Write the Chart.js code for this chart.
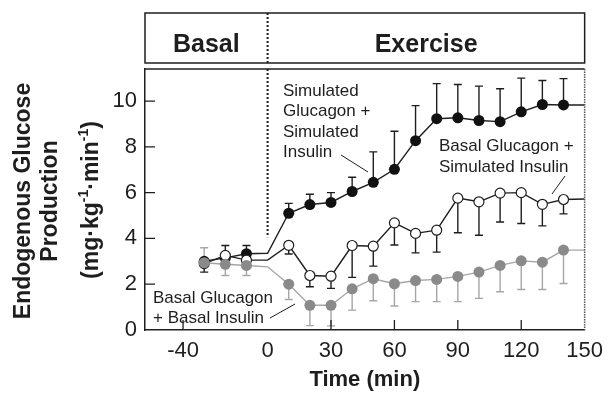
<!DOCTYPE html>
<html>
<head>
<meta charset="utf-8">
<script src="https://cdn.jsdelivr.net/npm/chart.js@4.4.0/dist/chart.umd.min.js"></script>
<style>
html, body { margin: 0; padding: 0; background: #fff; }
#wrap { width: 611px; height: 395px; }
</style>
</head>
<body>
<div id="wrap"><canvas id="myChart"></canvas></div>
<script>
// time points (min); 0 and 150 are line vertices only, no marker
const times = [-30, -20, -10, 0, 10, 20, 30, 40, 50, 60, 70, 80, 90, 100, 110, 120, 130, 140, 150];
const measured = [1, 1, 1, 0, 1, 1, 1, 1, 1, 1, 1, 1, 1, 1, 1, 1, 1, 1, 0];

// Simulated Glucagon + Simulated Insulin (black), SE drawn upward
const simGlucSimIns = [3.0, 3.15, 3.33, 3.35, 5.1, 5.48, 5.57, 6.05, 6.45, 7.02, 8.27, 9.23, 9.27, 9.15, 9.1, 9.53, 9.85, 9.83, 9.83];
const simGlucSimInsErr = [0, 0.54, 0.36, 0, 0.43, 0.45, 0.43, 0.62, 1.33, 1.66, 1.53, 1.53, 1.45, 1.5, 1.44, 1.47, 1.05, 1.15, 0];

// Basal Glucagon + Simulated Insulin (open), SE drawn downward
const basGlucSimIns = [2.9, 3.26, 3.05, 3.05, 3.7, 2.38, 2.35, 3.69, 3.66, 4.68, 4.22, 4.36, 5.76, 5.6, 5.98, 6.0, 5.49, 5.7, 5.72];
const basGlucSimInsErr = [0.37, 0, 0, 0, 0.38, 0.49, 0.53, 1.39, 0.87, 0.97, 0.85, 0.96, 1.51, 1.46, 1.26, 1.35, 0.94, 0.63, 0];

// Basal Glucagon + Basal Insulin (grey), SE drawn downward (first one upward)
const basGlucBasIns = [2.94, 2.87, 2.82, 2.76, 2.0, 1.08, 1.08, 1.8, 2.24, 2.02, 2.16, 2.21, 2.34, 2.53, 2.82, 3.02, 2.96, 3.49, 3.49];
const basGlucBasInsErr = [0, 0.49, 0.44, 0, 0.67, 0.89, 0.9, 0.93, 0.96, 0.97, 0.92, 0.97, 1.1, 1.15, 1.15, 1.25, 1.19, 1.46, 0];
const basGlucBasInsErrUp = [0.65, 0, 0, 0, 0, 0, 0, 0, 0, 0, 0, 0, 0, 0, 0, 0, 0, 0, 0];

const xTicks = [-40, 0, 30, 60, 90, 120, 150];
const yTicks = [0, 2, 4, 6, 8, 10];

const FONT = '"Liberation Sans", Arial, sans-serif';
const INK = '#1e1e1e';
const GREY_DOT = '#8a8a8a';
const GREY_LINE = '#a6a6a6';

function pts(vals) {
    return times.map((t, i) => ({x: t, y: vals[i]}));
}
function radii(r) {
    return measured.map(m => m ? r : 0);
}

// error bars go behind the markers
const errorBars = {
    id: 'errorBars',
    beforeDatasetsDraw(chart) {
        const c = chart.ctx, xs = chart.scales.x, ys = chart.scales.y;
        const sets = [
            {vals: simGlucSimIns, err: simGlucSimInsErr, dir: 1, color: INK},
            {vals: basGlucSimIns, err: basGlucSimInsErr, dir: -1, color: INK},
            {vals: basGlucBasIns, err: basGlucBasInsErr, dir: -1, color: GREY_LINE},
            {vals: basGlucBasIns, err: basGlucBasInsErrUp, dir: 1, color: GREY_LINE}
        ];
        c.save();
        c.lineWidth = 1.4;
        sets.forEach(s => {
            c.strokeStyle = s.color;
            times.forEach((t, i) => {
                if (!s.err[i]) return;
                let x = xs.getPixelForValue(t);
                let y0 = ys.getPixelForValue(s.vals[i]);
                let y1 = ys.getPixelForValue(s.vals[i] + s.dir * s.err[i]);
                c.beginPath();
                c.moveTo(x, y0); c.lineTo(x, y1);
                c.moveTo(x - 4, y1); c.lineTo(x + 4, y1);
                c.stroke();
            });
        });
        c.restore();
    }
};

const decorations = {
    id: 'decorations',
    afterDraw(chart) {
        const c = chart.ctx, xs = chart.scales.x, ys = chart.scales.y;
        const a = chart.chartArea;
        const x0 = xs.getPixelForValue(0);
        c.save();

        // header box
        const hTop = 13, hBot = 63;
        c.strokeStyle = INK;
        c.lineWidth = 1.5;
        c.strokeRect(a.left, hTop, a.right - a.left, hBot - hTop);
        c.fillStyle = INK;
        c.font = 'bold 25px ' + FONT;
        c.textAlign = 'center';
        c.textBaseline = 'alphabetic';
        c.fillText('Basal', (a.left + x0) / 2, 52);
        c.fillText('Exercise', (x0 + a.right) / 2, 52);

        // plot box top + right edges
        c.beginPath();
        c.moveTo(a.left, a.top); c.lineTo(a.right, a.top);
        c.stroke();
        c.strokeStyle = '#555';
        c.setLineDash([1.5, 1]);
        c.beginPath();
        c.moveTo(a.right, a.top); c.lineTo(a.right, a.bottom);
        c.stroke();

        // dotted divider at time 0
        c.strokeStyle = INK;
        c.lineWidth = 2;
        c.setLineDash([2, 2]);
        c.beginPath();
        c.moveTo(x0, hTop); c.lineTo(x0, hBot);
        c.moveTo(x0, a.top); c.lineTo(x0, ys.getPixelForValue(4.05));
        c.stroke();
        c.setLineDash([]);

        // inward tick marks
        c.lineWidth = 1.3;
        c.beginPath();
        yTicks.forEach(v => {
            if (v === 0) return;
            let y = ys.getPixelForValue(v);
            c.moveTo(a.left, y); c.lineTo(a.left + 10, y);
        });
        xTicks.forEach(v => {
            if (v === 0 || v === 150) return;
            let x = xs.getPixelForValue(v);
            c.moveTo(x, a.bottom); c.lineTo(x, a.bottom - 10);
        });
        c.stroke();

        // y axis title, three rotated lines
        c.fillStyle = INK;
        c.textAlign = 'center';
        c.textBaseline = 'middle';
        c.font = 'bold 23px ' + FONT;
        [['Endogenous Glucose', 24], ['Production', 51]].forEach(([txt, x]) => {
            c.save();
            c.translate(x, 201);
            c.rotate(-Math.PI / 2);
            c.fillText(txt, 0, 0);
            c.restore();
        });
        const parts = [['(mg·kg', 0], ['-1', 1], ['·min', 0], ['-1', 1], [')', 0]];
        const big = 'bold 23px ' + FONT, small = 'bold 14px ' + FONT;
        let total = 0;
        parts.forEach(([txt, sup]) => { c.font = sup ? small : big; total += c.measureText(txt).width; });
        c.save();
        c.translate(92, 200);
        c.rotate(-Math.PI / 2);
        c.textAlign = 'left';
        let px = -total / 2;
        parts.forEach(([txt, sup]) => {
            c.font = sup ? small : big;
            c.fillText(txt, px, sup ? -8 : 0);
            px += c.measureText(txt).width;
        });
        c.restore();

        // curve labels with leader lines
        c.font = '17px ' + FONT;
        c.textAlign = 'left';
        c.textBaseline = 'alphabetic';
        ['Simulated', 'Glucagon +', 'Simulated', 'Insulin'].forEach((s, i) => c.fillText(s, 283, 96 + i * 20.4));
        ['Basal Glucagon +', 'Simulated Insulin'].forEach((s, i) => c.fillText(s, 439, 151 + i * 21));
        ['Basal Glucagon', '+ Basal Insulin'].forEach((s, i) => c.fillText(s, 153, 303 + i * 20));
        c.lineWidth = 1;
        c.beginPath();
        c.moveTo(341, 155); c.lineTo(368, 172);
        c.moveTo(552, 194); c.lineTo(565, 176);
        c.moveTo(270, 318); c.lineTo(295, 304);
        c.stroke();

        c.restore();
    }
};

const ctx = document.getElementById('myChart').getContext('2d');

let chart = new Chart(ctx, {
    type: 'line',
    data: {
        datasets: [{
            label: 'Basal Glucagon + Basal Insulin',
            data: pts(basGlucBasIns),
            borderColor: GREY_LINE,
            borderWidth: 1.4,
            pointRadius: radii(5.5),
            pointBackgroundColor: GREY_DOT,
            pointBorderColor: GREY_DOT,
            pointBorderWidth: 0,
            order: 0
        }, {
            label: 'Basal Glucagon + Simulated Insulin',
            data: pts(basGlucSimIns),
            borderColor: INK,
            borderWidth: 1.4,
            pointRadius: radii(5),
            pointBackgroundColor: '#fff',
            pointBorderColor: INK,
            pointBorderWidth: 1.2,
            order: 1
        }, {
            label: 'Simulated Glucagon + Simulated Insulin',
            data: pts(simGlucSimIns),
            borderColor: INK,
            borderWidth: 1.4,
            pointRadius: radii(5.5),
            pointBackgroundColor: '#111',
            pointBorderColor: '#111',
            pointBorderWidth: 0,
            order: 2
        }]
    },
    options: {
        responsive: true,
        maintainAspectRatio: false,
        animation: false,
        layout: { padding: { top: 69, right: 23, left: 0, bottom: 0 } },
        plugins: { legend: { display: false }, tooltip: { enabled: false } },
        scales: {
            x: {
                type: 'linear',
                min: -58,
                max: 150,
                afterBuildTicks: s => { s.ticks = xTicks.map(v => ({value: v})); },
                afterFit: s => { s.height = 65; },
                grid: { display: false, drawTicks: false },
                border: { display: true, color: INK, width: 1.5 },
                ticks: { font: { size: 22, family: FONT }, color: INK, padding: 8, maxRotation: 0, autoSkip: false },
                title: { display: true, text: 'Time (min)', color: INK,
                         font: { size: 22, weight: 'bold', family: FONT }, padding: { top: 0, bottom: 2 } }
            },
            y: {
                type: 'linear',
                min: 0,
                max: 11.4,
                afterBuildTicks: s => { s.ticks = yTicks.map(v => ({value: v})); },
                afterFit: s => { s.width = 145; },
                grid: { display: false, drawTicks: false },
                border: { display: true, color: INK, width: 1.5 },
                ticks: { font: { size: 22, family: FONT }, color: INK, padding: 8 }
            }
        }
    },
    plugins: [errorBars, decorations]
});
</script>
</body>
</html>
